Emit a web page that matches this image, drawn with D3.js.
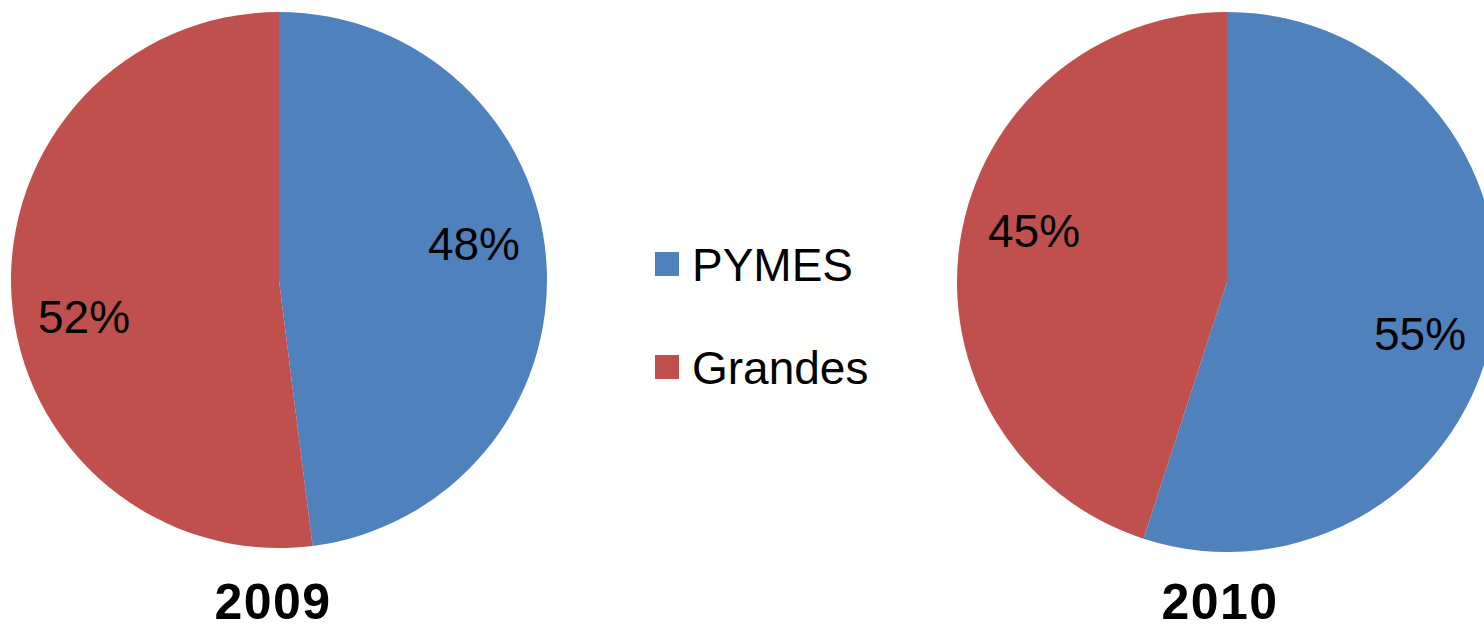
<html><head>
<script src="https://d3js.org/d3.v7.min.js"></script>
<style>
  body { margin: 0; background: #fff; }
  text { font-family: "Liberation Sans", Arial, sans-serif; }
</style>
</head>
<body>
<script>

  // data
  var categories = ["PYMES", "Grandes"];
  var years = ["2009", "2010"];
  var share2009 = [48, 52];
  var share2010 = [55, 45];

  var width = 1484, height = 630;
  var svg = d3.select("body").append("svg").attr("width", width).attr("height", height);

  var color = d3.scaleOrdinal().domain(categories).range(["#4F81BD", "#C0504D"]);

  // layout per pie (centre, radius, how far excel nudged the labels round)
  var pies = [
    { year: years[0], values: share2009, cx: 279, cy: 280, r: 268, shift: -7, titleX: 273 },
    { year: years[1], values: share2010, cx: 1227, cy: 282, r: 270, shift: 6, titleX: 1220 }
  ];

  var pie = d3.pie().sort(null).value(d => d.v);

  pies.forEach(function(p) {
    let g = svg.append("g").attr("transform", "translate(" + p.cx + "," + p.cy + ")");
    let arc = d3.arc().innerRadius(0).outerRadius(p.r);
    let rad = p.shift * Math.PI / 180;
    let labelArc = d3.arc().innerRadius(p.r * 0.74).outerRadius(p.r * 0.74);

    let slices = pie(p.values.map((v, i) => ({ v: v, c: categories[i] })));

    g.selectAll("path").data(slices).enter().append("path")
      .attr("d", arc)
      .attr("fill", d => color(d.data.c));

    g.selectAll("text.lbl").data(slices).enter().append("text")
      .attr("class", "lbl")
      .attr("transform", function(d) {
        let c = labelArc.centroid({ startAngle: d.startAngle + rad, endAngle: d.endAngle + rad });
        return "translate(" + c[0] + "," + c[1] + ")";
      })
      .attr("text-anchor", "middle")
      .attr("dy", "0.36em")
      .style("font-size", "46px")
      .attr("fill", "#000")
      .text(d => d.data.v + "%");

    svg.append("text")
      .attr("x", p.titleX).attr("y", 619)
      .attr("text-anchor", "middle")
      .style("font-size", "50px").style("font-weight", "bold")
      .style("letter-spacing", "1.5px")
      .text(p.year);
  });

  // legend
  var legend = svg.append("g").attr("transform", "translate(655,252)");
  categories.forEach(function(c, i) {
    let row = legend.append("g").attr("transform", "translate(0," + (i * 103) + ")");
    row.append("rect").attr("width", 24).attr("height", 24).attr("fill", color(c));
    row.append("text").attr("x", 37).attr("y", 29)
      .style("font-size", "46px").text(c);
  });

</script>
</body>
</html>
